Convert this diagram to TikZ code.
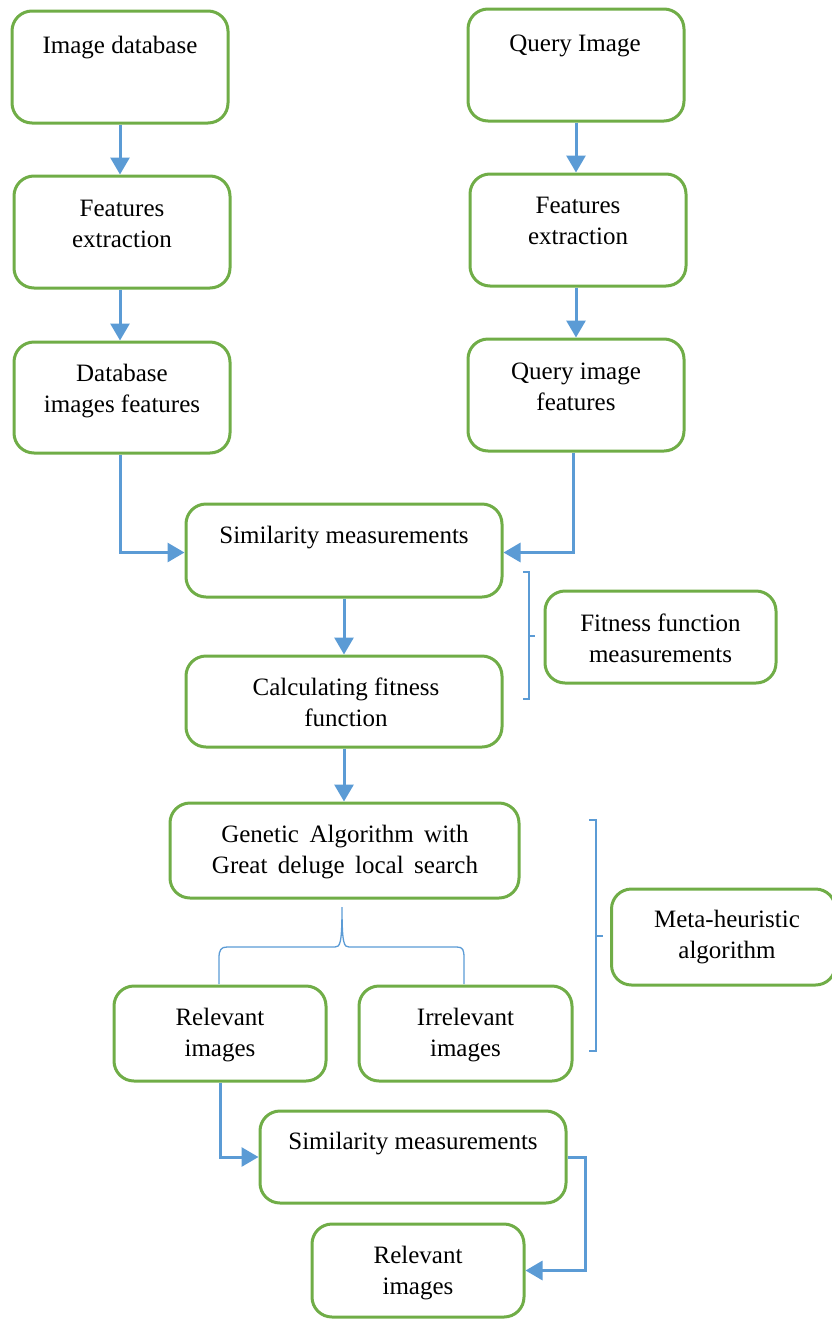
\documentclass[tikz,border=0pt]{standalone}
\usepackage{fontspec}
\setmainfont{Liberation Serif}
\usetikzlibrary{arrows.meta}
\definecolor{boxgreen}{RGB}{112,173,71}
\definecolor{arrblue}{RGB}{91,155,213}
\newcommand{\widespace}{\spaceskip=10.5pt\relax}
\tikzset{
  box/.style={draw=boxgreen, line width=3pt, rounded corners=20pt, inner sep=0pt, fill=white},
  lbl/.style={align=center, inner sep=0pt, font=\fontsize{25}{31}\selectfont},
  arr/.style={draw=arrblue, line width=3pt, -{Triangle[length=17pt,width=19pt]}},
  brk/.style={draw=arrblue, line width=1.3pt}
}
\begin{document}
\begin{tikzpicture}[x=1pt,y=-1pt]
\useasboundingbox (0,0) rectangle (832,1320);
% boxes
\node[box, minimum width=216pt, minimum height=112pt] (db) at (120,67) {};
\node[box, minimum width=216pt, minimum height=112pt] (fe1) at (122,232) {};
\node[box, minimum width=216pt, minimum height=111pt] (dif) at (122,397.5) {};
\node[box, minimum width=216pt, minimum height=112pt] (qi) at (576,65) {};
\node[box, minimum width=216pt, minimum height=112pt] (fe2) at (578,230) {};
\node[box, minimum width=216pt, minimum height=112pt] (qif) at (576,395) {};
\node[box, minimum width=316pt, minimum height=93pt] (sm) at (344,550.5) {};
\node[box, minimum width=316pt, minimum height=91pt] (cff) at (344,701.5) {};
\node[box, minimum width=231pt, minimum height=92pt] (ffm) at (660.5,637) {};
\node[box, minimum width=349pt, minimum height=95pt] (ga) at (344.5,850.5) {};
\node[box, minimum width=212pt, minimum height=95pt] (ri1) at (220,1033.5) {};
\node[box, minimum width=213pt, minimum height=95pt] (irr) at (465.5,1033.5) {};
\node[box, minimum width=224pt, minimum height=96pt] (meta) at (723.5,937) {};
\node[box, minimum width=306pt, minimum height=92pt] (sm2) at (413,1157) {};
\node[box, minimum width=212pt, minimum height=93pt] (ri2) at (418,1270.5) {};
% labels
\node[lbl] (tdb) at (120,47.5) {Image database};
\node[lbl] (tfe1) at (122,224) {Features\\extraction};
\node[lbl] (tdif) at (122,391.5) {Database\\images features};
\node[lbl] (tqi) at (575,45.5) {Query Image};
\node[lbl] (tfe2) at (578,221) {Features\\extraction};
\node[lbl] (tqif) at (576,387) {Query image\\features};
\node[lbl] (tsm) at (344,538) {Similarity measurements};
\node[lbl] (tcff) at (346,702) {Calculating fitness\\function};
\node[lbl] (tffm) at (660.5,638) {Fitness function\\measurements};
\node[lbl, font=\fontsize{25}{31}\selectfont\widespace] (tga) at (345,852.5) {Genetic Algorithm with\\Great deluge local search};
\node[lbl] (tri1) at (220,1035.5) {Relevant\\images};
\node[lbl] (tirr) at (465.5,1035.5) {Irrelevant\\images};
\node[lbl] (tmeta) at (727,937.5) {Meta-heuristic\\algorithm};
\node[lbl] (tsm2) at (413,1144) {Similarity measurements};
\node[lbl] (tri2) at (418,1273.5) {Relevant\\images};
% connectors
\draw[arr] (db.south) -- (db.south |- fe1.north);
\draw[arr] (db.south |- fe1.south) -- (db.south |- dif.north);
\draw[arr] (qi.south) -- (qi.south |- fe2.north);
\draw[arr] (qi.south |- fe2.south) -- (qi.south |- qif.north);
\draw[arr] (db.south |- dif.south) |- ([yshift=-2pt]sm.west);
\draw[arr] ([xshift=-3pt]qif.south) |- ([yshift=-2pt]sm.east);
\draw[arr] (sm.south) -- (cff.north);
\draw[arr] (cff.south) -- (cff.south |- ga.north);
\draw[arr] (ri1.south) |- (sm2.west);
\draw[arr] (sm2.east) -- ++(18,0) |- (ri2.east);
% brackets
\draw[brk] (523,572) -- (529,572) -- (529,699) -- (523,699);
\draw[brk] (529,636) -- (535,636);
\draw[brk] (589,820) -- (596,820) -- (596,1051) -- (589,1051);
\draw[brk] (596,936) -- (603,936);
\draw[brk] (219,984) -- (219,958) .. controls (219,950) and (221,947) .. (227,947) -- (335,947) .. controls (340,947) and (342,944) .. (342,907)
  .. controls (342,944) and (344,947) .. (349,947) -- (457,947) .. controls (463,947) and (464,950) .. (464,958) -- (464,984);
\end{tikzpicture}
\end{document}
